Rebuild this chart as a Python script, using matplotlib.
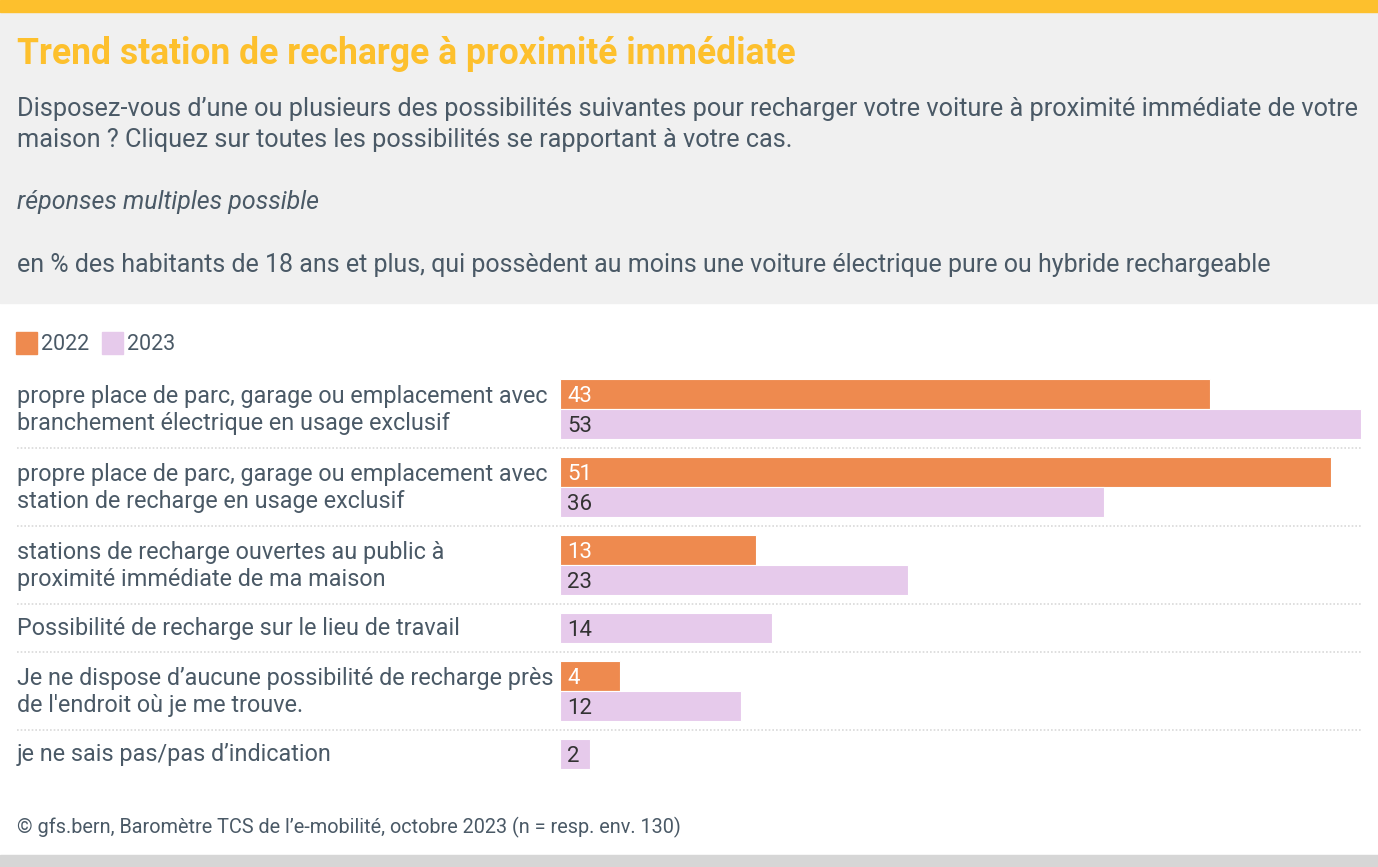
import matplotlib

matplotlib.use("Agg")
import matplotlib.pyplot as plt
from matplotlib.patches import Rectangle

plt.rcParams["font.family"] = ["Roboto", "DejaVu Sans"]

# data
categories = [
    "propre place de parc, garage ou emplacement avec\nbranchement électrique en usage exclusif",
    "propre place de parc, garage ou emplacement avec\nstation de recharge en usage exclusif",
    "stations de recharge ouvertes au public à\nproximité immédiate de ma maison",
    "Possibilité de recharge sur le lieu de travail",
    "Je ne dispose d’aucune possibilité de recharge près\nde l'endroit où je me trouve.",
    "je ne sais pas/pas d’indication",
]
series_names = ["2022", "2023"]
values_2022 = [43, 51, 13, None, 4, None]
values_2023 = [53, 36, 23, 14, 12, 2]

title = "Trend station de recharge à proximité immédiate"
subtitle = ("Disposez-vous d’une ou plusieurs des possibilités suivantes pour recharger votre voiture à proximité immédiate de votre\n"
            "maison ? Cliquez sur toutes les possibilités se rapportant à votre cas.")
note = "réponses multiples possible"
unit = "en % des habitants de 18 ans et plus, qui possèdent au moins une voiture électrique pure ou hybride rechargeable"
source = "© gfs.bern, Baromètre TCS de l’e-mobilité, octobre 2023 (n = resp. env. 130)"

# style
W, H = 1378, 867
ORANGE = "#EE8A4F"
LILAC = "#E6CAEB"
YELLOW = "#FDC02D"
TEXT = "#4A5966"
colors = [ORANGE, LILAC]
value_colors = ["white", "#333333"]

fig = plt.figure(figsize=(W / 100, H / 100), dpi=100)
ax = fig.add_axes([0, 0, 1, 1])
ax.set_axis_off()

# map percent onto pixels: 0 -> x=560, 53 -> x=1361
x0_px, x53_px = 560, 1361
ppu = (x53_px - x0_px) / 53
ax.set_xlim(-x0_px / ppu, (W - x0_px) / ppu)
ax.set_ylim(H, 0)


def px(x):
    return (x - x0_px) / ppu


# header background and bands
ax.add_patch(Rectangle((px(0), 12), px(W) - px(0), 291, color="#F0F0F0", zorder=0))
ax.add_patch(Rectangle((px(0), 0), px(W) - px(0), 12, color=YELLOW, zorder=0))
ax.add_patch(Rectangle((px(0), 855), px(W) - px(0), 12, color="#D6D6D6", zorder=0))

ax.text(px(17), 54, title, fontsize=25.6, fontweight="bold", color=YELLOW, va="center", ha="left")
ax.text(px(17), 124.5, subtitle, fontsize=18.15, color=TEXT, va="center", ha="left", linespacing=1.38)
ax.text(px(17), 202, note, fontsize=18, color=TEXT, va="center", ha="left", style="italic")
ax.text(px(17), 265, unit, fontsize=18, color=TEXT, va="center", ha="left")

# legend
leg_x = [16, 102]
for name, c, lx in zip(series_names, colors, leg_x):
    ax.add_patch(Rectangle((px(lx), 332), px(lx + 21) - px(lx), 22, color=c))
    ax.text(px(lx + 25), 344, name, fontsize=15.5, color=TEXT, va="center", ha="left")

# bars
bar_h, gap = 30, 18
y = 379
series = [values_2022, values_2023]
for i, cat in enumerate(categories):
    top = y
    for vals, c, vc in zip(series, colors, value_colors):
        v = vals[i]
        if v is None:
            continue
        ax.barh(y + bar_h / 2, v, height=bar_h, left=0, color=c,
                edgecolor="white", linewidth=0.8, zorder=2)
        ax.text(px(567), y + bar_h / 2 + 2, str(v), fontsize=16, color=vc,
                va="center", ha="left", zorder=3)
        y += bar_h
    ax.text(px(17), (top + y) / 2 + 1, cat, fontsize=16.8, color=TEXT, va="center",
            ha="left", linespacing=1.2)
    if i < len(categories) - 1:
        ax.plot([px(17), px(1361)], [y + gap / 2] * 2, color="#D9D9D9",
                linestyle=(0, (1, 1.2)), linewidth=1.2, zorder=1)
    y += gap

ax.text(px(17), 827, source, fontsize=14.3, color=TEXT, va="center", ha="left")

fig.savefig("out.png", dpi=100)
